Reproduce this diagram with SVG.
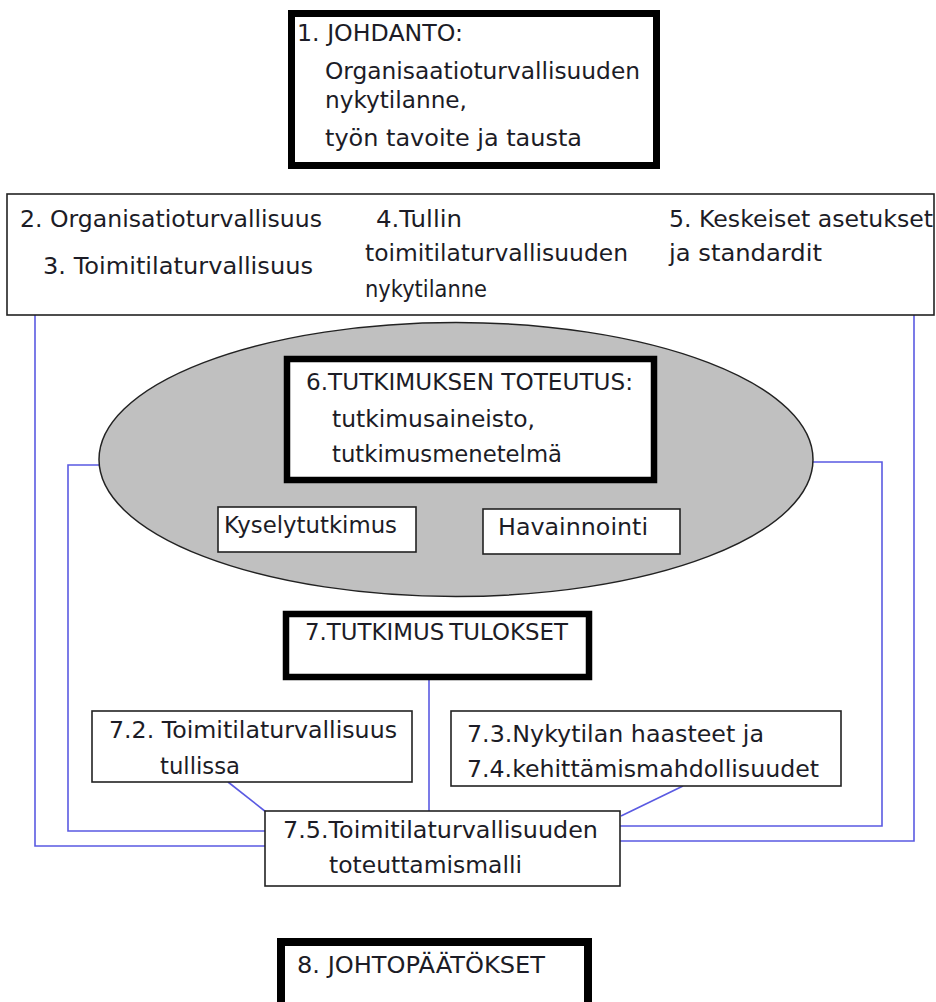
<svg xmlns="http://www.w3.org/2000/svg" width="936" height="1002" viewBox="0 0 936 1002">
  <style>
    .bg { fill: #ffffff; }
    .thick { fill: #ffffff; stroke: #000000; stroke-width: 6.5; }
    .thin { fill: #ffffff; stroke: #222222; stroke-width: 1.6; }
    .oval { fill: #c0c0c0; stroke: #222222; stroke-width: 1.5; }
    .conn { fill: none; stroke: #5a5ae2; stroke-width: 1.6; }
    text { font-family: "DejaVu Sans", "Noto Sans", sans-serif; font-size: 22.5px; fill: #1c1c26; }
  </style>

  <rect class="bg" x="0" y="0" width="936" height="1002"/>

  <!-- connectors between the chapters -->
  <g id="connectors">
    <path class="conn" d="M35,315 V846 H265"/>
    <path class="conn" d="M99,465 H68 V831 H265"/>
    <path class="conn" d="M813,462 H882 V826 H620"/>
    <path class="conn" d="M914,315 V841 H620"/>
    <path class="conn" d="M429,680 V811"/>
    <path class="conn" d="M228,782 L266,812"/>
    <path class="conn" d="M683,786 L621,816"/>
  </g>

  <!-- 1. Introduction -->
  <g id="johdanto">
    <rect class="thick" x="291.5" y="13.5" width="365" height="152" style="stroke-width:7"/>
    <text x="297" y="41" textLength="166" lengthAdjust="spacingAndGlyphs">1. JOHDANTO:</text>
    <text x="325" y="79" textLength="315" lengthAdjust="spacingAndGlyphs">Organisaatioturvallisuuden</text>
    <text x="325" y="108" textLength="142" lengthAdjust="spacingAndGlyphs">nykytilanne,</text>
    <text x="325" y="146" textLength="257" lengthAdjust="spacingAndGlyphs">työn tavoite ja tausta</text>
  </g>

  <!-- 2.–5. Theory chapters -->
  <g id="teoria">
    <rect class="thin" x="7" y="194" width="927" height="121"/>
    <text x="20" y="227" textLength="302" lengthAdjust="spacingAndGlyphs">2. Organisatioturvallisuus</text>
    <text x="43" y="274" textLength="270" lengthAdjust="spacingAndGlyphs">3. Toimitilaturvallisuus</text>
    <text x="376" y="227" textLength="86" lengthAdjust="spacingAndGlyphs">4.Tullin</text>
    <text x="365" y="261" textLength="263" lengthAdjust="spacingAndGlyphs">toimitilaturvallisuuden</text>
    <text x="365" y="297" textLength="122" lengthAdjust="spacingAndGlyphs">nykytilanne</text>
    <text x="669" y="227" textLength="264" lengthAdjust="spacingAndGlyphs">5. Keskeiset asetukset</text>
    <text x="669" y="261" textLength="153" lengthAdjust="spacingAndGlyphs">ja standardit</text>
  </g>

  <!-- 6. Research implementation -->
  <g id="toteutus">
    <ellipse class="oval" cx="456" cy="459.5" rx="357" ry="137"/>
    <rect class="thick" x="287" y="359" width="367" height="121"/>
    <text x="306" y="390" textLength="327" lengthAdjust="spacingAndGlyphs">6.TUTKIMUKSEN TOTEUTUS:</text>
    <text x="332" y="427" textLength="203" lengthAdjust="spacingAndGlyphs">tutkimusaineisto,</text>
    <text x="332" y="462" textLength="230" lengthAdjust="spacingAndGlyphs">tutkimusmenetelmä</text>
  </g>

  <g id="kyselytutkimus">
    <rect class="thin" x="218" y="507" width="198" height="45"/>
    <text x="224" y="533" textLength="173" lengthAdjust="spacingAndGlyphs">Kyselytutkimus</text>
  </g>

  <g id="havainnointi">
    <rect class="thin" x="483" y="509" width="197" height="45"/>
    <text x="498" y="535" textLength="150" lengthAdjust="spacingAndGlyphs">Havainnointi</text>
  </g>

  <!-- 7. Results -->
  <g id="tulokset">
    <rect class="thick" x="286" y="614" width="303" height="63"/>
    <text x="305" y="640" textLength="263" lengthAdjust="spacingAndGlyphs">7.TUTKIMUS<tspan dx="5">TULOKSET</tspan></text>
  </g>

  <g id="tulos-7-2">
    <rect class="thin" x="92" y="711" width="320" height="71"/>
    <text x="109" y="738" textLength="288" lengthAdjust="spacingAndGlyphs">7.2. Toimitilaturvallisuus</text>
    <text x="160" y="774" textLength="80" lengthAdjust="spacingAndGlyphs">tullissa</text>
  </g>

  <g id="tulos-7-3">
    <rect class="thin" x="451" y="711" width="390" height="75"/>
    <text x="467" y="742" textLength="297" lengthAdjust="spacingAndGlyphs">7.3.Nykytilan haasteet ja</text>
    <text x="467" y="777" textLength="352" lengthAdjust="spacingAndGlyphs">7.4.kehittämismahdollisuudet</text>
  </g>

  <g id="tulos-7-5">
    <rect class="thin" x="265" y="811" width="355" height="75"/>
    <text x="283" y="838" textLength="315" lengthAdjust="spacingAndGlyphs">7.5.Toimitilaturvallisuuden</text>
    <text x="329" y="873" textLength="193" lengthAdjust="spacingAndGlyphs">toteuttamismalli</text>
  </g>

  <!-- 8. Conclusions -->
  <g id="johtopaatokset">
    <rect class="thick" x="281" y="942" width="307" height="80" style="stroke-width:8"/>
    <text x="297" y="973" textLength="248" lengthAdjust="spacingAndGlyphs">8. JOHTOPÄÄTÖKSET</text>
  </g>
</svg>
